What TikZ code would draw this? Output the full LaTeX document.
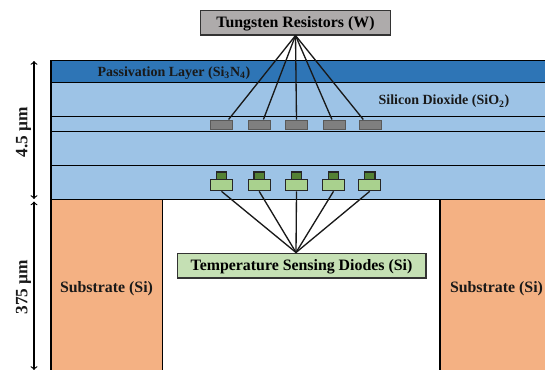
\documentclass[tikz,border=0pt]{standalone}
\usepackage{fontspec}
\setmainfont{Liberation Serif}
\definecolor{gray50}{HTML}{7F7F7F}
\definecolor{padgreen}{HTML}{A9D18E}
\definecolor{contactgreen}{HTML}{548235}
\definecolor{oxide}{HTML}{9DC3E6}
\definecolor{nitride}{HTML}{2E75B6}
\definecolor{silicon}{HTML}{F4B183}
\definecolor{boxgray}{HTML}{AEABAB}
\definecolor{boxgreen}{HTML}{C5E0B4}
\begin{document}
\begin{tikzpicture}[x=0.75pt,y=-0.75pt,font=\bfseries]
		\tikzstyle{label}=[inner sep=0pt,text=black!90]
		\tikzstyle{legend}=[draw=black!80,line width=1pt,inner sep=0pt,text height=10pt,text depth=2.6pt,font=\fontsize{11.9}{14}\selectfont\bfseries]
		\tikzstyle{resistor}=[draw=black!65,line width=0.7pt,fill=gray50,minimum width=16.5pt,minimum height=6.8pt,inner sep=0pt]
		\tikzstyle{pad}=[draw=black!85,line width=1pt,fill=padgreen,minimum width=16.5pt,minimum height=8.2pt,inner sep=0pt]
		\tikzstyle{contact}=[draw=black!85,line width=1pt,fill=contactgreen,minimum width=7.8pt,minimum height=5.6pt,inner sep=0pt]
		\tikzstyle{wire}=[line width=1pt,black!90]
		\clip (0,0) rectangle (545,369);
		% layers
		\draw[fill=oxide,line width=0.9pt] (51,82.5) rectangle (547,199.5);
		\draw[fill=nitride,line width=0.9pt] (51,60.5) rectangle (547,82.5);
		\draw[line width=0.9pt] (51,116.5) -- (547,116.5) (51,131.5) -- (547,131.5) (51,165.5) -- (547,165.5);
		\draw[fill=silicon,line width=0.9pt] (51,199.5) rectangle (162.5,372);
		\draw[fill=silicon,line width=0.9pt] (440,199.5) rectangle (547,372);
		% resistors
		\node[resistor](r1)at(221.7,124.5){};
		\node[resistor](r2)at(259.5,124.5){};
		\node[resistor](r3)at(296.5,124.5){};
		\node[resistor](r4)at(334.2,124.5){};
		\node[resistor](r5)at(370.7,124.5){};
		% diodes
		\foreach \i/\xpos in {1/221.5,2/259.2,3/296.5,4/333.5,5/369.7}{
			\node[pad](d\i)at(\xpos,185.2){};
			\node[contact](c\i)at(\xpos,175.8){};
		}
		% boxes
		\node[legend,fill=boxgray,minimum width=142.5pt,minimum height=18.5pt](rt)at(295.5,22.5){Tungsten Resistors (W)};
		\node[legend,fill=boxgreen,minimum width=186.5pt,minimum height=18.5pt](dt)at(301.5,265.5){Temperature Sensing Diodes (Si)};
		\coordinate (dtop) at (296,252.5);
		\path[wire] (rt.south) edge (r1.36)
		(rt.south) edge (r2.52)
		(rt.south) edge (r3.north)
		(rt.south) edge (r4.114)
		(rt.south) edge (r5.146);
		\path[wire] (dtop) edge (d1.south)
		(dtop) edge (d2.south)
		(dtop) edge (d3.south)
		(dtop) edge (d4.south)
		(dtop) edge (d5.south);
		% labels
		\node[label,font=\fontsize{10.5}{12}\selectfont\bfseries](pl)at(174,73){Passivation Layer (Si\textsubscript{3}N\textsubscript{4})};
		\node[label,font=\fontsize{10.5}{12}\selectfont\bfseries](sd)at(444,101.5){Silicon Dioxide (SiO\textsubscript{2})};
		\node[label,font=\fontsize{11.9}{14}\selectfont\bfseries](s1)at(106.5,289){Substrate (Si)};
		\node[label,font=\fontsize{11.9}{14}\selectfont\bfseries](s2)at(496.5,289){Substrate (Si)};
		% dimensions
		\coordinate (a1) at (34,61);
		\coordinate (a2) at (34,199);
		\coordinate (a3) at (34,201.5);
		\coordinate (a4) at (34,370);
		\path[<->,line width=0.9pt] (a1) edge (a2)
		(a3) edge (a4);
		\node[label,rotate=90,font=\fontsize{13}{16}\selectfont\bfseries](h1)at(23.5,132){4.5 µm};
		\node[label,rotate=90,font=\fontsize{13}{16}\selectfont\bfseries](h2)at(23.5,287){375 µm};
		\end{tikzpicture}
\end{document}
